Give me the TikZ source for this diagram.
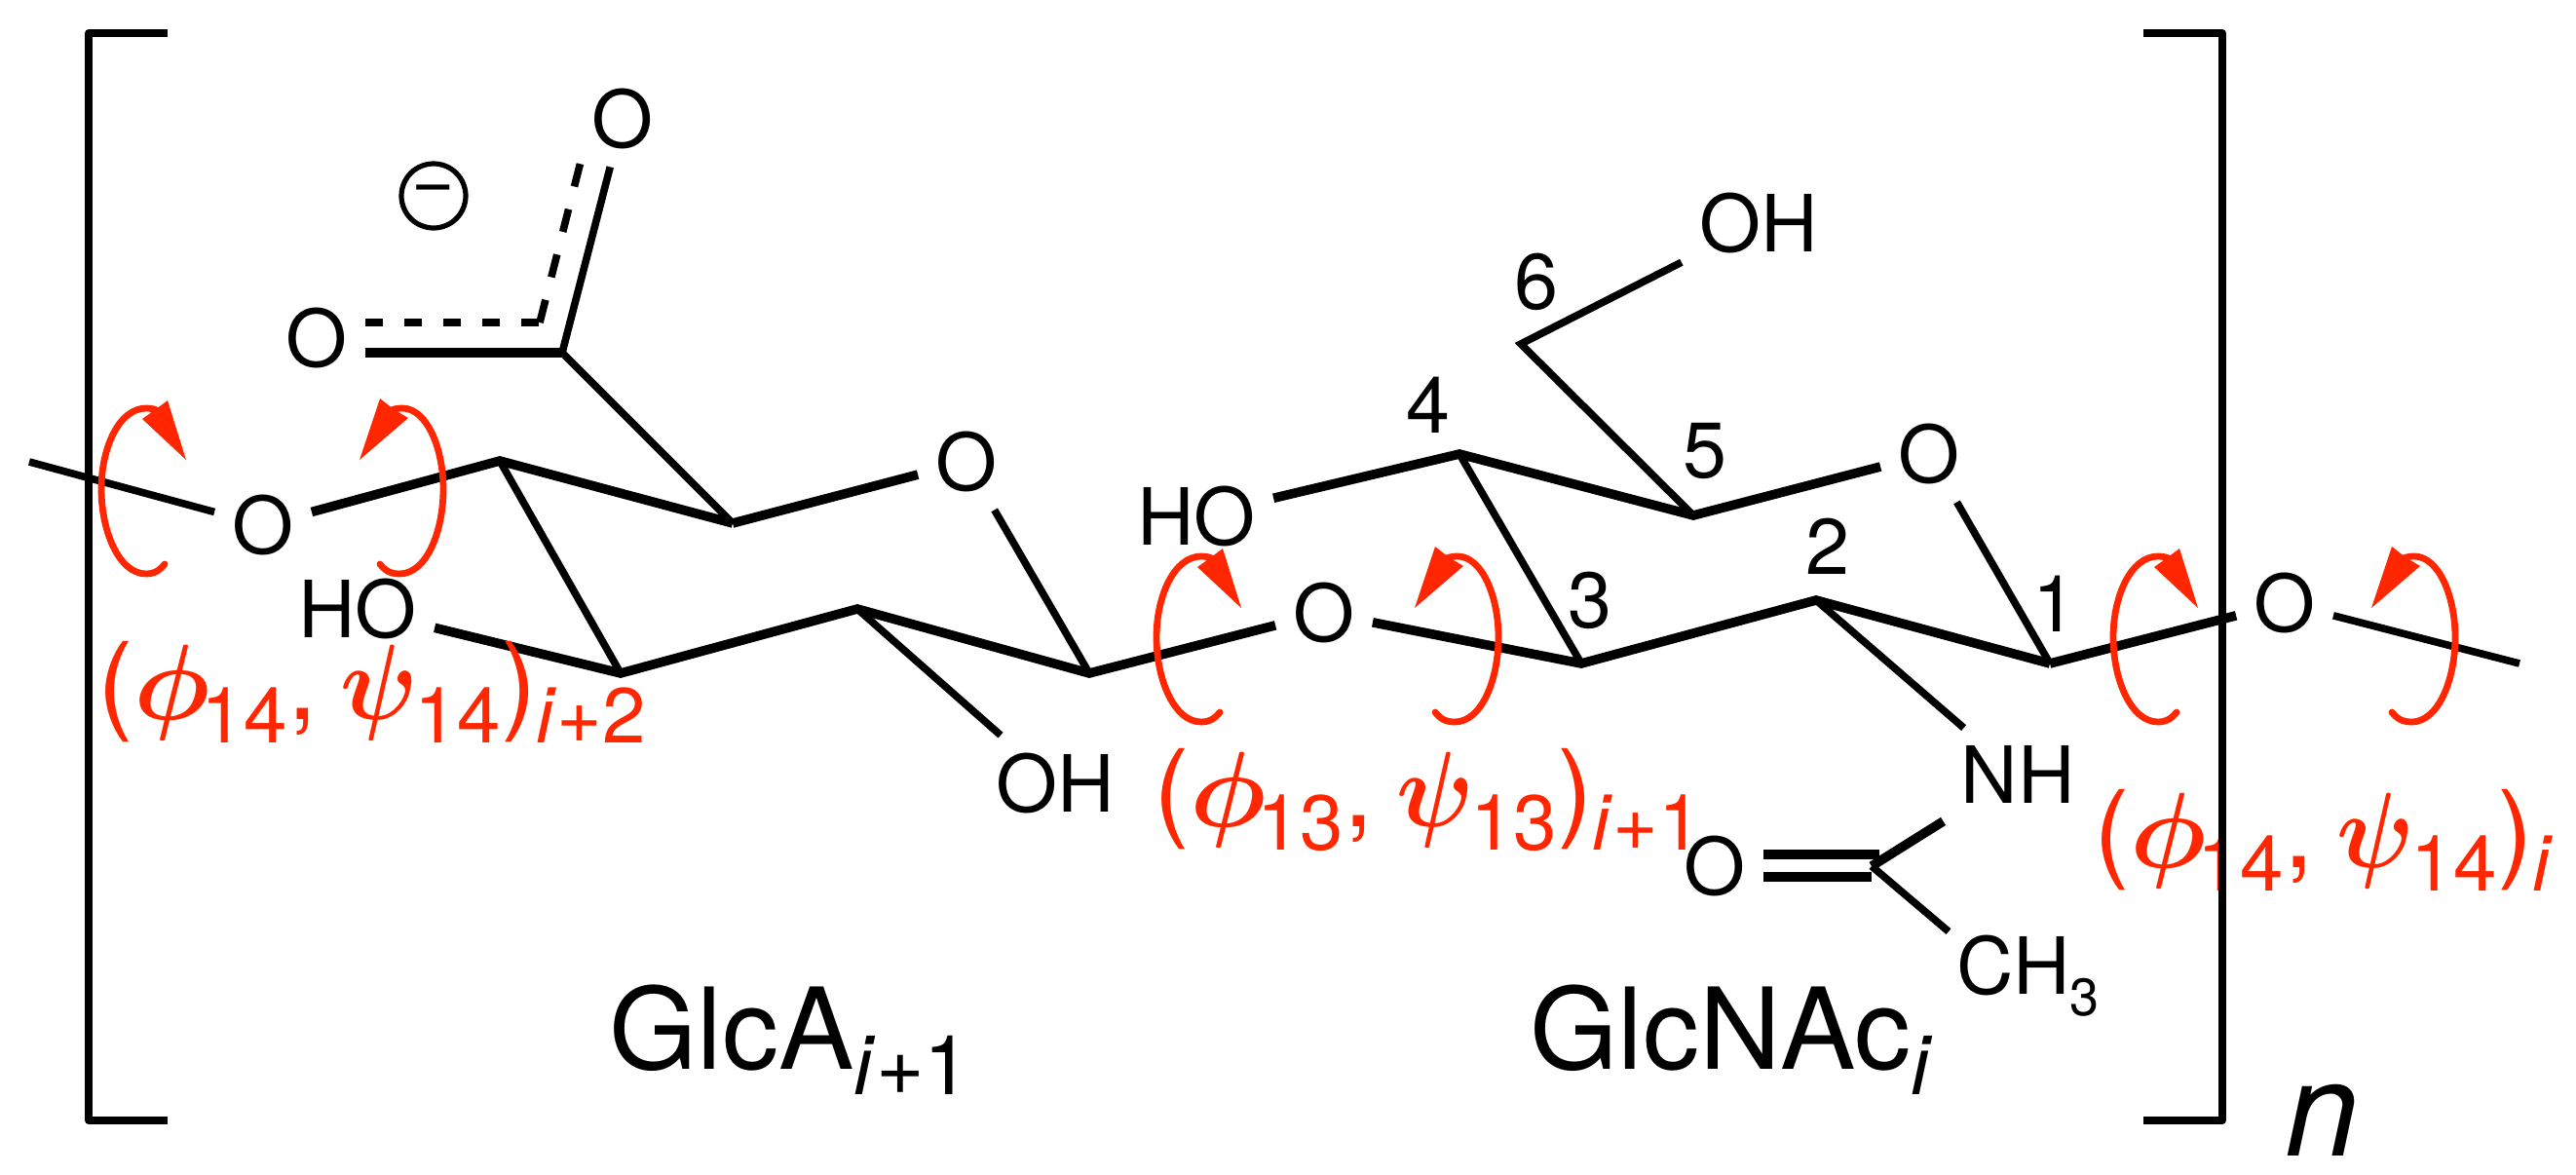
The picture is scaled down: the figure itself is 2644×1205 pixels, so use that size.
\documentclass[tikz,border=0pt]{standalone}
\usepackage{fontspec}
\setmainfont{TeX Gyre Heros}
\definecolor{TorsionClr}{rgb}{1,0.15,0}
\newcommand{\AtomFont}{\fontsize{40.5}{44}\selectfont}
\newcommand{\BigFont}{\fontsize{55}{60}\selectfont}
\newcommand{\SmallFont}{\fontsize{40}{44}\selectfont}
\newcommand{\SubText}[1]{\raisebox{-12pt}{\SmallFont #1}}
\newcommand{\PhiText}{\scalebox{5.5}{\normalsize\boldmath$\phi$}\kern-4.5pt}
\newcommand{\PsiText}{\scalebox{5}[5.5]{\normalsize\boldmath$\psi$}\kern-2pt}
\newcommand{\TorsionText}[3]{\BigFont(\PhiText\SubText{#1},\ \kern-3.5pt\PsiText\SubText{#2})\SubText{#3}}
\newcommand{\ResidueText}[2]{\fontsize{58}{64}\selectfont #1\raisebox{-13pt}{\fontsize{42.5}{46}\selectfont #2}}

\begin{document}
\begin{tikzpicture}[x=.5pt,y=-.5pt,
  AtomNode/.style={inner sep=9pt,font=\AtomFont},
  NumNode/.style={inner sep=0pt,font=\AtomFont},
  TorsionNode/.style={anchor=base west,inner sep=0pt,text=TorsionClr},
  ResidueNode/.style={anchor=base west,inner sep=0pt},
  ThinBond/.style={line width=3.8pt},
  BoldBond/.style={line width=4.8pt},
  BracketLine/.style={line width=3.8pt,line join=round},
  TorsionArc/.style={line width=3.4pt,color=TorsionClr,line cap=round}]
\useasboundingbox (0,0) rectangle (2644,1205);

% sugar ring atoms
\coordinate (EndL) at (30,474);
\coordinate (AC4) at (513,473);
\coordinate (AC5) at (752,537);
\coordinate (AC6) at (577,362);
\coordinate (AC3) at (637,691);
\coordinate (AC2) at (880,625);
\coordinate (AC1) at (1118,691);
\coordinate (NC3) at (1623,681);
\coordinate (NC4) at (1498,466);
\coordinate (NC5) at (1738,529);
\coordinate (NC6) at (1561,353);
\coordinate (NC2) at (1864,616);
\coordinate (NC1) at (2104,681);
\coordinate (AmC) at (1921,889);
\coordinate (AmUp) at (1929,877);
\coordinate (AmLo) at (1921,900);
\coordinate (EndR) at (2586,681);
\coordinate (DashCorner) at (554,331);
\coordinate (DashEnd) at (597,162);

\node[AtomNode] (OL) at (270,539) {O};
\node[AtomNode] (OAc) at (325,347) {O};
\node[AtomNode] (OCa) at (639,122) {O};
\node[AtomNode] (OAr) at (992,474) {O};
\node[AtomNode] (HOA) at (367,625) {HO};
\node[AtomNode] (OHA) at (1083,804) {OH};
\node[AtomNode] (OM) at (1359,629) {O};
\node[AtomNode] (HON) at (1228,530) {HO};
\node[AtomNode] (OHN) at (1805,229) {OH};
\node[AtomNode] (ONr) at (1980,466) {O};
\node[AtomNode] (OR) at (2345,619) {O};
\node[AtomNode] (NH) at (2071,795) {NH};
\node[AtomNode] (OAm) at (1760,889) {O};
\node[AtomNode,anchor=base west,inner xsep=4pt,inner ysep=1.5pt] (CH3) at (2000,1020) {CH\raisebox{-11pt}{\fontsize{27}{30}\selectfont 3}};

\node[circle,draw,line width=2.6pt,minimum size=33pt,inner sep=0pt,font=\fontsize{38}{40}\selectfont] (Chg) at (445,201) {−};

\node[NumNode] (n6) at (1577,289) {6};
\node[NumNode] (n4) at (1466,416) {4};
\node[NumNode] (n5) at (1750,463) {5};
\node[NumNode] (n3) at (1632,616) {3};
\node[NumNode] (n2) at (1876,561) {2};
\node[NumNode] (n1) at (2109,620) {1};

% bonds
\draw[ThinBond] (EndL) -- (OL);
\draw[BoldBond] (OL) -- (AC4) -- (AC5);
\draw[ThinBond] (AC4) -- (AC3);
\draw[ThinBond] (AC5) -- (AC6);
\draw[BoldBond] (AC6) -- (OAc.east |- AC6);
\draw[ThinBond] (AC6) -- (OCa);
\draw[ThinBond,dash pattern=on 9pt off 11pt] (OAc.east |- DashCorner) -- (DashCorner);
\draw[ThinBond,dash pattern=on 12pt off 12pt] (DashCorner) -- (DashEnd);
\draw[BoldBond] (AC5) -- (OAr);
\draw[ThinBond] (OAr) -- (AC1);
\draw[BoldBond] (HOA) -- (AC3) -- (AC2) -- (AC1) -- (OM);
\draw[ThinBond] (AC2) -- (OHA);
\draw[BoldBond] (OM) -- (NC3) -- (NC2) -- (NC1);
\draw[ThinBond] (NC3) -- (NC4);
\draw[BoldBond] (HON) -- (NC4) -- (NC5) -- (ONr);
\draw[ThinBond] (NC5) -- (NC6) -- (OHN);
\draw[ThinBond] (ONr) -- (NC1);
\draw[BoldBond] (NC1) -- (OR);
\draw[ThinBond] (OR) -- (EndR);
\draw[ThinBond] (NC2) -- (NH);
\draw[BoldBond] (NH) -- (AmC);
\draw[BoldBond] (OAm.east |- AmUp) -- (AmUp);
\draw[BoldBond] (OAm.east |- AmLo) -- (AmLo);
\draw[ThinBond] (AmC) -- (CH3.north west);

\node[TorsionNode] (Tor1) at (100,738) {\TorsionText{14}{14}{\textit{i}+2}};
\node[TorsionNode] (Tor2) at (1184,848) {\TorsionText{13}{13}{\textit{i}+1}};
\node[TorsionNode] (Tor3) at (2149,890) {\TorsionText{14}{14}{\textit{i}}};

% rotation arrows
\foreach \dx/\dy in {0/0,1083/152,2065/152}{
  \begin{scope}[shift={(\dx,\dy)}]
  \draw[TorsionArc] (169,579) .. controls (162,588) and (155,589) .. (150,589) .. controls (122,589) and (104,545) .. (104,502) .. controls (104,460) and (122,419) .. (150,419) .. controls (155,419) and (160,420) .. (165,423);
  \fill[TorsionClr] (172,411) -- (191,472) -- (146,430) -- (160,420) -- cycle;
  \draw[TorsionArc] (390,579) .. controls (397,588) and (404,589) .. (410,589) .. controls (438,589) and (455,545) .. (455,502) .. controls (455,460) and (438,419) .. (413,419) .. controls (408,419) and (402,420) .. (398,423);
  \fill[TorsionClr] (390,409) -- (369,472) -- (419,429) -- (404,420) -- cycle;
  \end{scope}
}

% brackets
\draw[BracketLine] (172,34) -- (91,34) -- (91,1150) -- (172,1150);
\draw[BracketLine] (2200,34) -- (2281,34) -- (2281,1150) -- (2200,1150);

\node[ResidueNode] (GlcA) at (625,1097) {\ResidueText{GlcA}{\textit{i}+1}};
\node[ResidueNode] (GlcNAc) at (1570,1097) {\ResidueText{GlcNAc}{\textit{i}}};
\node[ResidueNode,font=\fontsize{68}{72}\selectfont\itshape] (Rep) at (2345,1186) {n};
\end{tikzpicture}
\end{document}
